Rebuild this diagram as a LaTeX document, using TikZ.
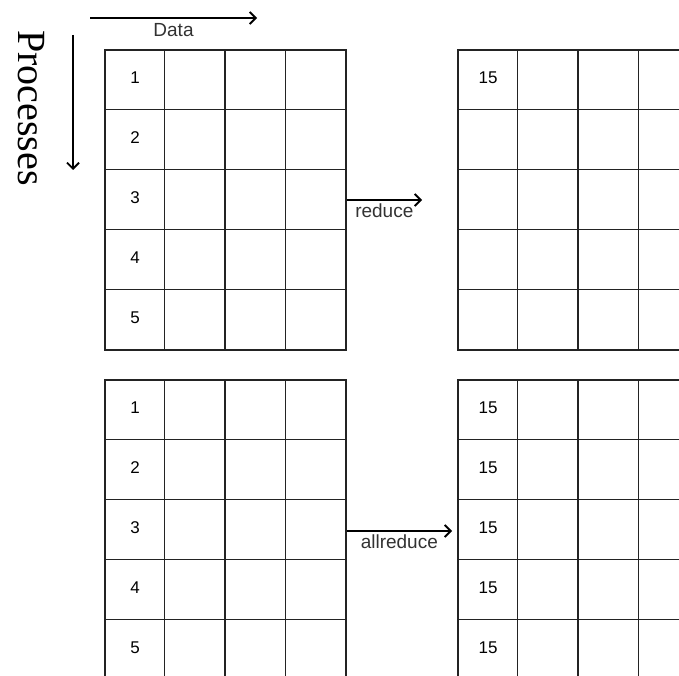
\documentclass[tikz,border=0pt]{standalone}
\usepackage{fontspec}
\setmainfont{Liberation Sans}
\newfontfamily\procfont{Liberation Serif}
\usetikzlibrary{arrows.meta, positioning}
\definecolor{gridgray}{RGB}{35,35,35}
\definecolor{textgray}{RGB}{50,50,50}

\begin{document}
\begin{tikzpicture}[x=1pt, y=-1pt,
    grid/.style={rectangle, draw=gridgray, line width=1.2pt, minimum width=241pt, minimum height=300pt, inner sep=0pt},
    cellnum/.style={font=\fontsize{17}{17}\selectfont, text=black},
    lbl/.style={font=\fontsize{19}{19}\selectfont, text=textgray, inner sep=1pt},
    arrow/.style={-{Straight Barb[length=6pt,width=12pt]}, line width=1.8pt}
]
\useasboundingbox (0,0) rectangle (679,676);
\clip (0,0) rectangle (679,676);

% axes
\node[rotate=-90, font=\procfont\fontsize{40}{40}\selectfont, inner sep=0pt] (proc) at (31,108) {Processes};
\coordinate (data-start) at (90,18);
\coordinate (data-end) at (257,18);
\coordinate (proc-start) at (73,35);
\coordinate (proc-end) at (73,170);
\draw[arrow] (data-start) -- node[lbl, below=4pt] {Data} (data-end);
\draw[arrow] (proc-start) -- (proc-end);

% grids
\node[grid] (red-in) at (225.5,200) {};
\node[grid] (red-out) at (578.5,200) {};
\node[grid] (all-in) at (225.5,530) {};
\node[grid] (all-out) at (578.5,530) {};

\foreach \g in {red-in, red-out, all-in, all-out} {
    \foreach \i in {1,2,3}
        \draw[gridgray, line width=1.2pt] (\g.north west) ++(\i*60.25,0) -- ++(0,300);
    \foreach \j in {1,...,4}
        \draw[gridgray, line width=1.2pt] (\g.north west) ++(0,\j*60) -- ++(241,0);
}

% values
\foreach \k in {1,...,5} {
    \node[cellnum] (red-in-\k) at (135,\k*60+18) {\k};
    \node[cellnum] (all-in-\k) at (135,\k*60+348) {\k};
    \node[cellnum] (all-out-\k) at (488,\k*60+348) {15};
}
\node[cellnum] (red-out-1) at (488,78) {15};

% operations
\coordinate (reduce-end) at (422,200);
\coordinate (allreduce-end) at (452,531);
\draw[arrow] (red-in.east) -- node[lbl, below=1.5pt] {reduce} (reduce-end);
\draw[arrow] (all-in.east |- allreduce-end) -- node[lbl, below=1.5pt] {allreduce} (allreduce-end);
\end{tikzpicture}
\end{document}
